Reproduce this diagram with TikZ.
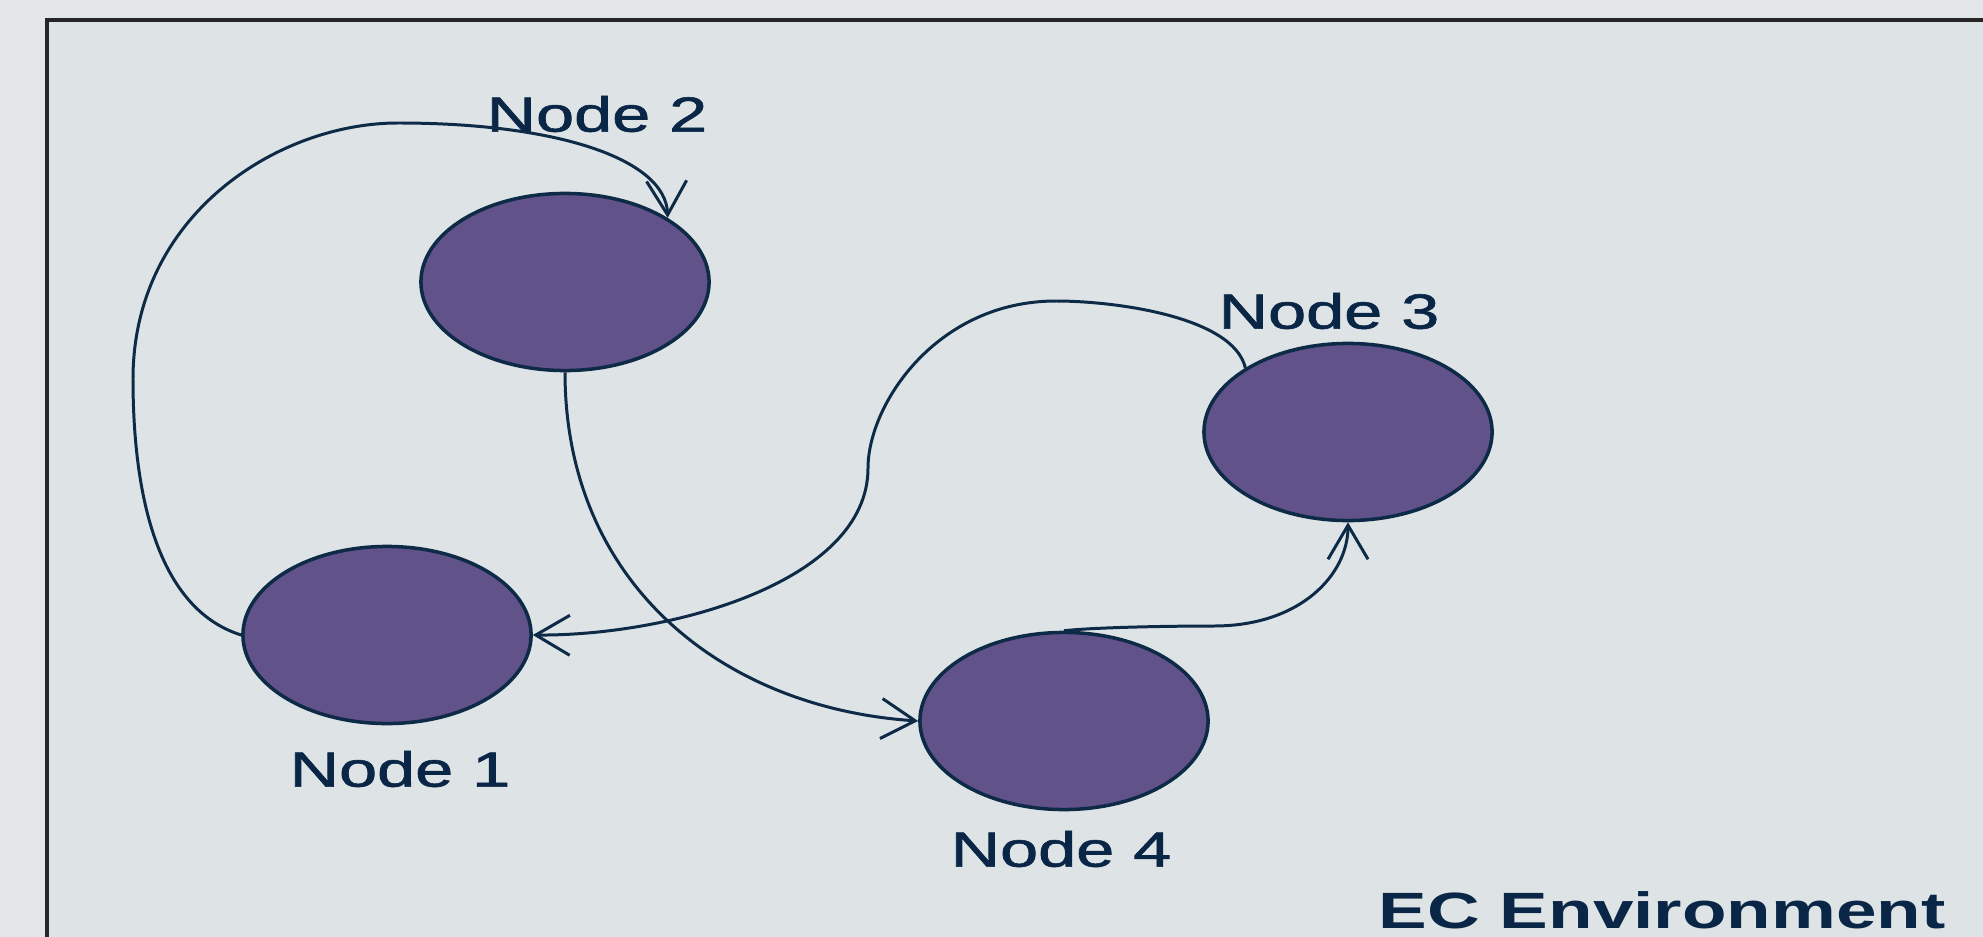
\documentclass[tikz,border=0pt]{standalone}
\usepackage{fontspec}
\setmainfont{Liberation Sans}
\newfontfamily\lblfont{Liberation Sans}[FakeBold=1.2]
\usetikzlibrary{shapes.geometric,arrows.meta}
\definecolor{outerbg}{HTML}{E4E7EA}
\definecolor{innerbg}{HTML}{DEE3E6}
\definecolor{nodefill}{HTML}{62528A}
\definecolor{ink}{HTML}{0D2A47}
\definecolor{txt}{HTML}{0A2646}
\newcommand{\wide}[2]{\scalebox{#1}[1]{#2}}
\begin{document}
\begin{tikzpicture}[x=0.01cm,y=-0.01cm,
  blob/.style={ellipse, draw=ink, fill=nodefill, line width=1pt,
    minimum width=2.88cm, minimum height=1.77cm, inner sep=0pt},
  lbl/.style={text=txt, font=\lblfont\fontsize{14}{17}\selectfont, inner sep=0pt},
  envlbl/.style={text=txt, font=\bfseries\fontsize{14.5}{17}\selectfont, inner sep=0pt},
  link/.style={draw=ink, line width=0.85pt, line join=round,
    -{Straight Barb[length=0.34cm,width=0.4cm,line width=0.85pt]}}]
\useasboundingbox (0,0) rectangle (1983,937);
\clip (0,0) rectangle (1983,937);
\fill[outerbg] (0,0) rectangle (1983,937);
\draw[draw=black!85, fill=innerbg, line width=1pt] (47,20) rectangle (2100,1050);

% nodes
\node[blob] (n1) at (387,635) {};
\node[blob] (n2) at (565,282) {};
\node[blob] (n3) at (1348,432) {};
\node[blob] (n4) at (1064,721) {};

% labels
\node[lbl] (l2) at (597,114) {\wide{1.39}{Node 2}};
\node[lbl] (l3) at (1329,311) {\wide{1.39}{Node 3}};
\node[lbl] (l1) at (400,769) {\wide{1.39}{Node 1}};
\node[lbl] (l4) at (1061,849) {\wide{1.39}{Node 4}};
\node[envlbl] (env) at (1662,910) {\wide{1.43}{EC Environment}};

% connectors
\draw[link] (n1.west) .. controls (152,607) and (133,481) .. (133,379)
  .. controls (133,215) and (278,123) .. (398,123)
  .. controls (560,123) and (666,160) .. (n2.32);
\draw[link] (n2.south) .. controls (565,582) and (721,708) .. (n4.west);
\draw[link] (n3.148) .. controls (1233,316) and (1113,301) .. (1056,301)
  .. controls (936,301) and (868,405) .. (868,468)
  .. controls (868,582) and (670,636) .. (n1.east);
\draw[link] (n4.north) .. controls (1100,627) and (1176,626) .. (1214,626)
  .. controls (1300,626) and (1348,575) .. (n3.south);
\end{tikzpicture}
\end{document}
